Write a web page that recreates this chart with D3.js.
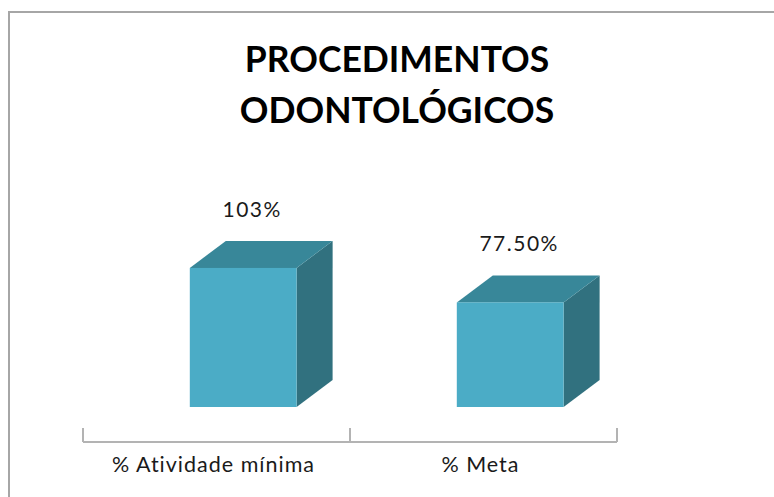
<!DOCTYPE html>
<html>
    <head>
        <meta charset="utf-8">
        <title>Procedimentos Odontológicos</title>
        <script src="https://d3js.org/d3.v7.min.js"></script>
        <style>
            * {
                font-family: 'Lato', 'Open Sans', sans-serif;
            }
            body {
                margin: 0;
                overflow: hidden;
                background: #ffffff;
            }
            svg {
                display: block;
            }
        </style>
    </head>
    <body>
        <script>
            const categories = ['% Atividade mínima', '% Meta'];
            const values = [103, 77.5];
            const valueLabels = ['103%', '77.50%'];
            const titleLines = ['PROCEDIMENTOS', 'ODONTOLÓGICOS'];

            const width = 774;
            const height = 497;

            const svg = d3.select('body').append('svg').attr('width', width).attr('height', height);

            // chart frame (right and bottom edges fall outside the picture)
            svg.append('rect')
                .attr('x', 9)
                .attr('y', 12)
                .attr('width', 800)
                .attr('height', 520)
                .attr('fill', '#fff')
                .attr('stroke', '#a6a6a6')
                .attr('stroke-width', 2);

            svg.append('g')
                .selectAll('text')
                .data(titleLines)
                .enter()
                .append('text')
                .attr('x', 397)
                .attr('y', (d, i) => 72 + i * 51)
                .attr('text-anchor', 'middle')
                .attr('font-size', 35.5)
                .attr('font-weight', 'bold')
                .attr('fill', '#000')
                .text((d) => d);

            const x = d3.scaleBand().domain(categories).range([83, 617]).padding(0);
            const y = d3.scaleLinear().domain([0, 120]).range([407, 245]);

            const bw = x.bandwidth();
            const barW = bw * 0.4;
            const dx = 36;
            const dy = 27;

            const bars = svg
                .append('g')
                .selectAll('g')
                .data(categories.map((c, i) => ({ c, v: values[i], label: valueLabels[i] })))
                .enter()
                .append('g');

            // side face
            bars.append('path')
                .attr('fill', '#31717f')
                .attr('d', (d) => {
                    const x1 = x(d.c) + bw * 0.4 + barW;
                    const top = y(d.v);
                    const bot = y(0);
                    return `M${x1},${top}L${x1 + dx},${top - dy}L${x1 + dx},${bot - dy}L${x1},${bot}Z`;
                });

            // top face
            bars.append('path')
                .attr('fill', '#388799')
                .attr('d', (d) => {
                    const x0 = x(d.c) + bw * 0.4;
                    const x1 = x0 + barW;
                    const top = y(d.v);
                    return `M${x0},${top}L${x0 + dx},${top - dy}L${x1 + dx},${top - dy}L${x1},${top}Z`;
                });

            // front face
            bars.append('rect')
                .attr('fill', '#4bacc6')
                .attr('x', (d) => x(d.c) + bw * 0.4)
                .attr('y', (d) => y(d.v))
                .attr('width', barW)
                .attr('height', (d) => y(0) - y(d.v));

            bars.append('text')
                .attr('x', (d) => x(d.c) + bw * 0.4 + barW / 2 + 9)
                .attr('y', (d) => y(d.v) - dy - 24)
                .attr('text-anchor', 'middle')
                .attr('font-size', 21)
                .attr('letter-spacing', 1.5)
                .attr('fill', '#1a1a1a')
                .text((d) => d.label);

            // category axis
            const axisY = 442;
            const axis = svg.append('g').attr('stroke', '#b3b3b3').attr('stroke-width', 2);
            axis.append('line').attr('x1', x.range()[0]).attr('x2', x.range()[1]).attr('y1', axisY).attr('y2', axisY);
            axis.selectAll('.tick')
                .data(categories.map((c) => x(c)).concat([x.range()[1]]))
                .enter()
                .append('line')
                .attr('x1', (d) => d)
                .attr('x2', (d) => d)
                .attr('y1', axisY - 14)
                .attr('y2', axisY);

            svg.append('g')
                .selectAll('text')
                .data(categories)
                .enter()
                .append('text')
                .attr('x', (d) => x(d) + bw / 2 - 3)
                .attr('y', 472)
                .attr('text-anchor', 'middle')
                .attr('font-size', 21.5)
                .attr('letter-spacing', 1)
                .attr('fill', '#1a1a1a')
                .text((d) => d);
        </script>
    </body>
</html>
